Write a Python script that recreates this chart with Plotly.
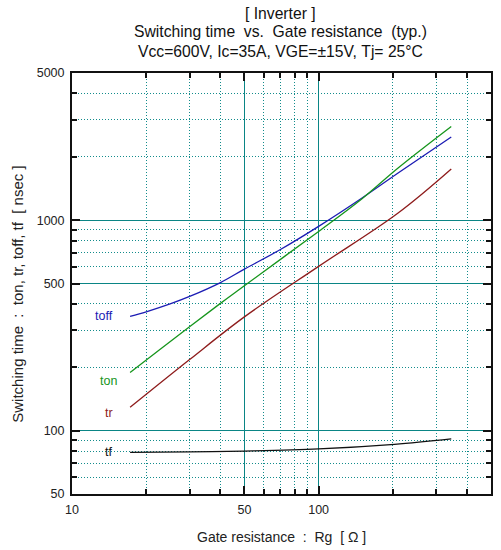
import math
import plotly.graph_objects as go

# Data
rg_toff = [17.2, 20, 25, 30, 40, 50, 70, 100, 150, 210, 345]
toff = [349, 367, 400, 434, 505, 585, 725, 934, 1274, 1675, 2483]
rg_ton = [17.2, 22.65, 39.6, 50, 100, 150, 210, 345]
ton = [189, 242, 399, 488, 884, 1265, 1770, 2787]
rg_tr = [17.2, 29.9, 50, 100, 210, 345]
tr = [129, 217, 347, 603, 1081, 1750]
rg_tf = [17.2, 30, 50, 100, 203, 345]
tf = [78.8, 79.2, 80.0, 81.9, 86.1, 91.3]

x_major = [10, 50, 100, 500]
x_minor = [20, 30, 40, 60, 70, 80, 90, 200, 300, 400]
y_major = [50, 100, 500, 1000, 5000]
y_minor = [60, 70, 80, 90, 200, 300, 400, 600, 700, 800, 900, 2000, 3000, 4000]

title_lines = ["[ Inverter ]",
               "Switching time  vs.  Gate resistance  (typ.)",
               "Vcc=600V, Ic=35A, VGE=±15V, Tj= 25°C"]
x_title = "Gate resistance  :  Rg  [ Ω ]"
y_title = "Switching time  :  ton, tr, toff, tf  [ nsec ]"

FONT = "Liberation Sans, Arial, sans-serif"
TEAL = "#0a8585"
TEAL_DOT = "#138c8c"
NB = lambda s: s.replace(" ", "\u00a0")

# name, x, y, colour, label position (Rg, value)
series = [
    ("toff", rg_toff, toff, "#1c1cb4", 13.5, 351),
    ("ton", rg_ton, ton, "#16951c", 14.1, 173),
    ("tr", rg_tr, tr, "#8e1c1c", 14.1, 121),
    ("tf", rg_tf, tf, "#111111", 14.1, 78.8),
]

fig = go.Figure()
for name, xs, ys, col, lx, ly in series:
    fig.add_trace(go.Scatter(x=xs, y=ys, mode="lines", name=name,
                             line=dict(color=col, width=1.3, shape="spline"),
                             showlegend=False))
    fig.add_annotation(x=math.log10(lx), y=math.log10(ly), xref="x", yref="y",
                       text=name, showarrow=False,
                       font=dict(family=FONT, size=12.5, color=col))

axis_common = dict(
    type="log",
    showline=True, linecolor="#111", linewidth=2, mirror="ticks",
    ticks="inside", ticklen=8, tickcolor="#111", tickwidth=1.5,
    showgrid=True, gridcolor=TEAL, gridwidth=1,
    zeroline=False,
    ticklabelstandoff=3,
    tickfont=dict(family=FONT, size=12.5, color="#222"),
)
minor_common = dict(tickmode="array", ticks="inside", ticklen=5,
                    tickcolor="#111", showgrid=True, gridcolor=TEAL_DOT,
                    griddash="1px,2px", gridwidth=1)

fig.update_xaxes(
    **axis_common,
    range=[1, math.log10(500)],
    tickmode="array", tickvals=x_major, ticktext=[str(v) for v in x_major],
    minor=dict(tickvals=x_minor, **minor_common),
)
fig.update_yaxes(
    **axis_common,
    range=[math.log10(50), math.log10(5000)],
    tickmode="array", tickvals=y_major, ticktext=[str(v) for v in y_major],
    minor=dict(tickvals=y_minor, **minor_common),
)

# titles
for txt, yp in zip(title_lines, [1.1418, 1.098, 1.0506]):
    fig.add_annotation(x=0.497, y=yp, xref="paper", yref="paper", text=NB(txt),
                       showarrow=False, xanchor="center", yanchor="middle",
                       font=dict(family=FONT, size=15.7, color="#111"))
fig.add_annotation(x=0.5, y=-0.1014, xref="paper", yref="paper", text=NB(x_title),
                   showarrow=False, xanchor="center", yanchor="middle",
                   font=dict(family=FONT, size=14, color="#222"))
fig.add_annotation(x=-0.1306, y=0.474, xref="paper", yref="paper", text=NB(y_title),
                   textangle=-90, showarrow=False, xanchor="center", yanchor="middle",
                   font=dict(family=FONT, size=15, color="#222"))

fig.update_layout(
    width=501, height=550,
    margin=dict(l=72, r=8, t=73, b=56),
    plot_bgcolor="white", paper_bgcolor="white",
)

fig.write_html("out.html")
